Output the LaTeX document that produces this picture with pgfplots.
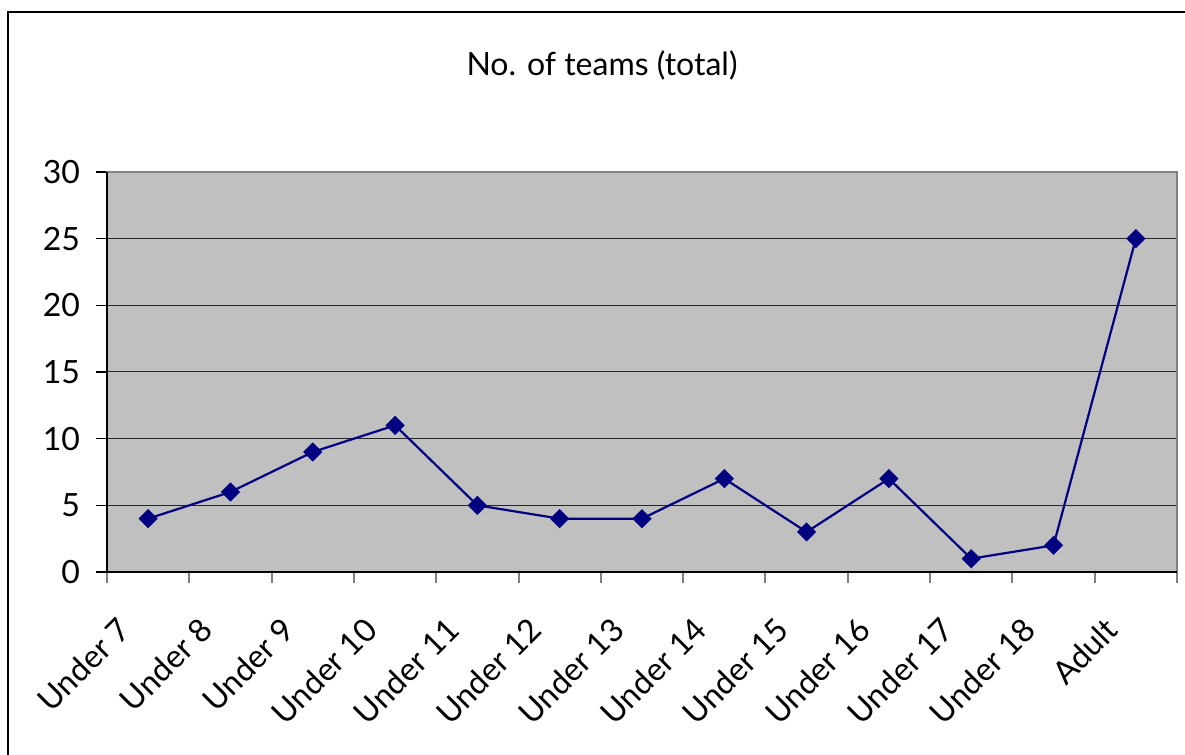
\documentclass[border=0pt]{standalone}
\usepackage{pgfplots}
\pgfplotsset{compat=1.18}
\usepackage{fontspec}
\setmainfont{Lato}
\definecolor{navyline}{RGB}{0,0,128}
\definecolor{plotbg}{RGB}{192,192,192}
\definecolor{bordergray}{RGB}{128,128,128}
\begin{document}
\begin{tikzpicture}[x=1pt,y=1pt]
\useasboundingbox (0,0) rectangle (592.5,377.5);
\draw[line width=1pt] (594,371.5) -- (4,371.5) -- (4,-2);
\node at (301,345) {\fontsize{16}{19}\selectfont No. of teams (total)};
\begin{axis}[
  at={(53.5pt,91.5pt)}, anchor=south west,
  scale only axis, width=535pt, height=200pt,
  xmin=-0.5, xmax=12.5, ymin=0, ymax=30,
  ytick={0,5,...,30},
  xtick={0,...,12},
  xticklabels={Under 7,Under 8,Under 9,Under 10,Under 11,Under 12,Under 13,Under 14,Under 15,Under 16,Under 17,Under 18,Adult},
  minor xtick={-0.5,0.5,...,12.5},
  major x tick style={draw=none},
  minor x tick style={draw=bordergray, line width=1pt},
  major y tick style={draw=black, line width=0.6pt},
  tick align=outside, tick pos=left,
  major tick length=5.5pt, minor tick length=5.5pt,
  /pgf/number format/assume math mode=true,
  tick label style={font=\fontsize{16}{19}\selectfont},
  yticklabel style={xshift=-4.5pt},
  xticklabel style={rotate=45, anchor=north east, inner sep=0pt, yshift=0pt, xshift=-23pt},
  ymajorgrids, grid style={black!85, line width=0.5pt},
  axis background/.style={fill=plotbg},
  axis line style={draw=bordergray, line width=1pt},
  clip=false,
]
\addplot[navyline, line width=1.1pt, mark=square*, mark size=2.85pt, mark options={rotate=45, fill=navyline, draw=navyline}]
  coordinates {(0,4) (1,6) (2,9) (3,11) (4,5) (5,4) (6,4) (7,7) (8,3) (9,7) (10,1) (11,2) (12,25)};
\draw[black, line width=0.7pt] (rel axis cs:0,1) -- (rel axis cs:0,0) -- (rel axis cs:1,0);
\end{axis}
\end{tikzpicture}
\end{document}
